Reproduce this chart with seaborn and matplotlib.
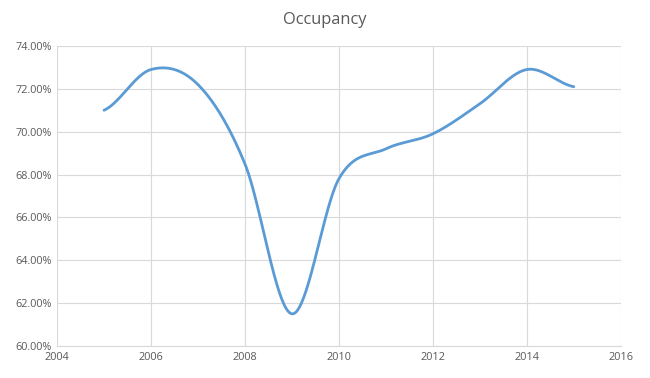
import numpy as np
import pandas as pd
import matplotlib.pyplot as plt
import seaborn as sns

# --- data ---
years = [2005, 2006, 2007, 2008, 2009, 2010, 2011, 2012, 2013, 2014, 2015]
occupancy = [71.0, 72.9, 72.2, 68.5, 61.5, 67.8, 69.2, 69.9, 71.3, 72.9, 72.1]


# Excel-style smoothed line (Catmull-Rom spline through the points)
def smooth(xs, ys, n=40):
    xs = np.asarray(xs, float)
    ys = np.asarray(ys, float)
    px = np.concatenate([[2 * xs[0] - xs[1]], xs, [2 * xs[-1] - xs[-2]]])
    py = np.concatenate([[ys[0]], ys, [ys[-1]]])
    out_x, out_y = [], []
    t = np.linspace(0, 1, n, endpoint=False)
    for i in range(1, len(px) - 2):
        for p, out in ((px, out_x), (py, out_y)):
            p0, p1, p2, p3 = p[i - 1], p[i], p[i + 1], p[i + 2]
            c1 = p1 + (p2 - p0) / 6
            c2 = p2 - (p3 - p1) / 6
            out.extend((1 - t) ** 3 * p1 + 3 * (1 - t) ** 2 * t * c1
                       + 3 * (1 - t) * t ** 2 * c2 + t ** 3 * p2)
    out_x.append(xs[-1])
    out_y.append(ys[-1])
    return np.array(out_x), np.array(out_y)


sx, sy = smooth(years, occupancy)
df = pd.DataFrame({'Year': sx, 'Occupancy': sy})

sns.set_style('white')
plt.rcParams['font.family'] = ['Open Sans', 'DejaVu Sans']

fig = plt.figure(figsize=(6.5, 3.78), dpi=100)
ax = fig.add_axes([0.0877, 0.0847, 0.8673, 0.7937])

sns.lineplot(data=df, x='Year', y='Occupancy', ax=ax, color='#5b9bd5',
             linewidth=2.0, sort=False)

ax.set_xlim(2004, 2016)
ax.set_ylim(60, 74)
ax.set_xticks(range(2004, 2017, 2))
ax.set_yticks(range(60, 75, 2))
ax.set_yticklabels([f'{v:.2f}%' for v in range(60, 75, 2)])
ax.grid(True, color='#d9d9d9', linewidth=0.8)
ax.set_axisbelow(True)
for side in ['top', 'right', 'left']:
    ax.spines[side].set_visible(False)
ax.spines['bottom'].set_color('#d9d9d9')
ax.tick_params(axis='both', length=0, labelsize=7.8, colors='#595959', pad=4)
ax.set_xlabel('')
ax.set_ylabel('')
fig.text(0.5, 1 - 20 / 378, 'Occupancy', ha='center', va='center',
         fontsize=11.8, color='#595959')

plt.savefig('out.png', dpi=100)
